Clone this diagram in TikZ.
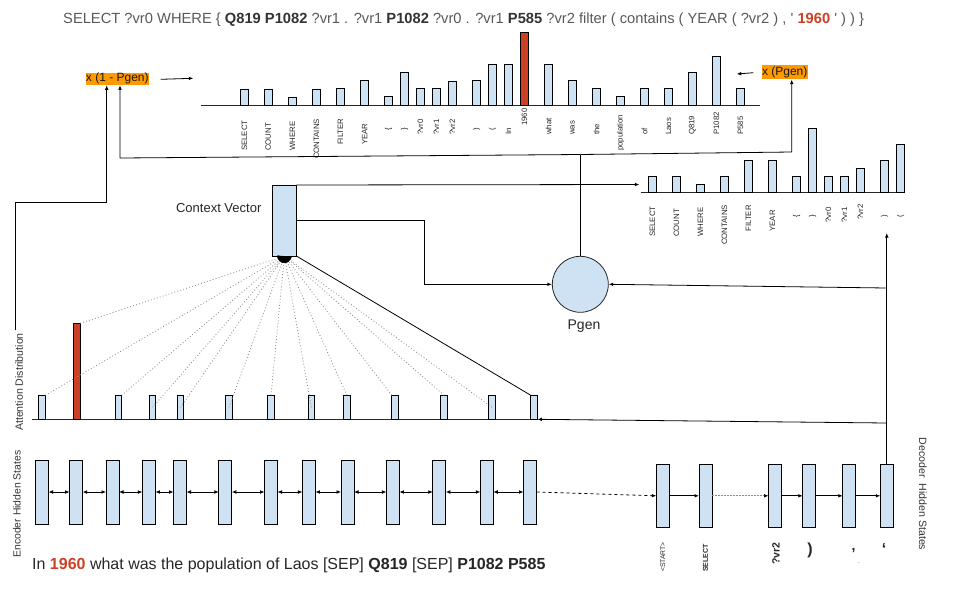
\documentclass[tikz,border=0pt]{standalone}
\usepackage{fontspec}
\setmainfont{Liberation Sans}
\usetikzlibrary{arrows.meta}
\definecolor{barblue}{HTML}{CFE2F3}
\definecolor{berry}{HTML}{CC4125}
\definecolor{orng}{HTML}{FF9900}
\definecolor{qgray}{HTML}{595959}
\definecolor{qdark}{HTML}{333333}
\definecolor{dotgray}{HTML}{8C8C8C}
\newcommand\fsz[1]{\fontsize{#1}{#1}\selectfont}
\newcommand\qb[1]{\textbf{\textcolor{qdark}{#1}}}
\begin{document}
\begin{tikzpicture}[x=1pt,y=-1pt,
  bar/.style={draw=black, fill=barblue, line width=0.9pt, inner sep=0pt, outer sep=0pt},
  tlbl/.style={rotate=90, anchor=west, inner sep=0pt, font=\fsz{7.8}, text=black!85},
  conn/.style={line width=0.8pt, draw=black},
  arr/.style={conn, -{Latex[length=4.5pt,width=3.6pt]}},
  dblarr/.style={conn, {Latex[length=4.5pt,width=3.8pt]}-{Latex[length=4.5pt,width=3.8pt]}},
  dotl/.style={draw=dotgray, line width=0.8pt, dash pattern=on 0.9pt off 2.2pt, -{Latex[length=6.5pt,width=6pt,black]}},
  base/.style={line width=1pt, draw=black!85},
  plain/.style={inner sep=0pt, text=black!85},
  obox/.style={fill=orng, inner sep=0pt, font=\fsz{12}, text=black!90},
]
\useasboundingbox (0,0) rectangle (960,600);

% ---------- query text ----------
\node[anchor=west, inner sep=0pt, font=\fsz{14.7}, text=qgray] (query) at (63,19.4)
 {SELECT ?vr0 WHERE \{ \qb{Q819} \qb{P1082} ?vr1 . ?vr1 \qb{P1082} ?vr0 . ?vr1 \qb{P585} ?vr2 filter ( contains ( YEAR ( ?vr2 ) , \textquotesingle\ \textbf{\textcolor{berry}{1960}} \textquotesingle\ ) ) \}};

% ---------- top distribution ----------
\draw[base] (200.7,105) -- (760,105);
\foreach \x/\t/\lab/\ly/\col [count=\i] in {
  244.5/89/SELECT/151/barblue, 268.3/89/COUNT/151/barblue, 292.5/97.3/WHERE/151/barblue,
  316.5/89/CONTAINS/159/barblue, 340.5/88.3/FILTER/145/barblue, 364.7/80.3/YEAR/145/barblue,
  388.5/96.3/\{/131/barblue, 404.5/72.3/\}/131/barblue, 420.5/88.3/?vr0/135/barblue,
  436.5/88.3/?vr1/135/barblue, 452.5/81.3/?vr2/135/barblue, 476.5/80.3/)/131/barblue,
  492.5/64.3/(/131/barblue, 508.5/64.3/In/135/barblue, 524.5/32.3/1960/126/berry,
  548.5/64.3/what/135/barblue, 572.5/80.3/was/135/barblue, 596.5/88.3/the/135/barblue,
  620.5/96.3/population/151/barblue, 644.5/88.3/of/135/barblue, 668.5/88.3/Laos/135/barblue,
  692.5/72.3/Q819/135/barblue, 716.5/56.3/P1082/135/barblue, 740.5/88.3/P585/135/barblue}
{
  \node[bar, fill=\col, anchor=south, minimum width=7.6pt, minimum height={(105-\t)*1pt}] (tb\i) at (\x,105) {};
  \node[tlbl] (tl\i) at (\x,\ly) {\lab};
}

% ---------- right (vocabulary) distribution ----------
\draw[base] (640.7,192) -- (905,192);
\foreach \x/\t/\lab/\ly [count=\i] in {
  652.5/176.7/SELECT/237, 676.5/176.7/COUNT/237, 700.5/184.3/WHERE/237,
  724.5/176.7/CONTAINS/245, 748.5/160.7/FILTER/231.7, 772.5/160.7/YEAR/231.7,
  796.5/176.7/\{/218, 812.5/128.3/\}/218, 828.5/176.7/?vr0/222.7,
  844.5/176.7/?vr1/222.7, 860.5/168.7/?vr2/220, 884.5/160.7/)/218, 900.5/144.3/(/218}
{
  \node[bar, anchor=south, minimum width=8.4pt, minimum height={(192-\t)*1pt}] (rb\i) at (\x,192) {};
  \node[tlbl] (rl\i) at (\x,\ly) {\lab};
}

% ---------- orange multipliers ----------
\node[obox, minimum width=62.7pt, minimum height=12.5pt] (xom) at (117.3,78.8) {x (1 - Pgen)};
\node[obox, minimum width=46pt, minimum height=14.3pt] (xp) at (784.7,72.2) {x (Pgen)};
\coordinate (xoa) at (160.7,79.3);
\coordinate (xob) at (193.3,78.3);
\draw[arr] (xoa) -- (xob);
\coordinate (xpa) at (753.3,72.7);
\coordinate (xpb) at (736.7,74);
\draw[arr] (xpa) -- (xpb);

% ---------- Pgen ----------
\node[circle, draw=black!85, fill=barblue, line width=0.8pt, minimum size=56pt, inner sep=0pt] (pgen) at (580.3,284.3) {};
\node[plain, font=\fsz{14}] (pgenl) at (584,326) {Pgen};

\coordinate (jM) at (580.3,154.5);
\coordinate (jL) at (120,158);
\coordinate (jR) at (791.7,152);
\draw[conn] (pgen.north) -- (jM);
\draw[arr] (jM) -- (jL) -- (jL |- xom.south);
\draw[arr] (jM) -- (jR) -- (jR |- xp.south);

% ---------- context vector ----------
\fill[black] (284.4,256) ellipse [x radius=7.5pt, y radius=5.5pt];
\node[bar, minimum width=24pt, minimum height=71pt] (cv) at (284.4,220.5) {};
\node[plain, font=\fsz{13}] (cvl) at (218.7,208.5) {Context Vector};
\coordinate (rcin) at (639.3,184.5);
\draw[arr] (cv.north east) -- (rcin);
\coordinate (c1) at (424.3,220.5);
\coordinate (c2) at (424.3,284.3);
\draw[arr] (cv.east) -- (c1) -- (c2) -- (pgen.west);

% ---------- attention distribution ----------
\draw[base] (31.7,419.3) -- (537.7,419.3);
\foreach \x/\h/\col [count=\i] in {
  42/24/barblue, 76.9/96/berry, 118.3/24/barblue, 152.6/24/barblue, 180.6/24/barblue,
  229/24/barblue, 271/24/barblue, 311.4/24/barblue, 346.8/24/barblue, 395.2/24/barblue,
  444.1/24/barblue, 492/24/barblue, 534.1/24/barblue}
{
  \node[bar, fill=\col, anchor=south, minimum width=6.6pt, minimum height=\h pt] (a\i) at (\x,419.3) {};
}
\foreach \s in {a1.north east, a2.north east, a3.north east, a4.center, a5.center, a6.center,
  a7.north, a8.center, a9.north, a10.north west, a11.north, a12.center}
{
  \draw[dotl] (\s) -- (cv.south);
}
\draw[conn] (cv.south east) -- (a13.north west);

\node[plain, rotate=90, font=\fsz{10.6}, text=black!80] (attd) at (19,382) {Attention Distribution};
\coordinate (at0) at (15.4,330);
\coordinate (at1) at (15.4,202);
\coordinate (at2) at (106.7,202);
\draw[arr] (at0) -- (at1) -- (at2) -- (at2 |- xom.south);

% ---------- encoder ----------
\foreach \x [count=\i] in {42,76.1,112.5,148.9,180,225.3,271,308.9,347.5,392.9,439.3,486.8,530}
{
  \node[bar, minimum width=13pt, minimum height=64pt] (e\i) at (\x,492) {};
}
\foreach \i [evaluate=\i as \j using int(\i+1)] in {1,...,12}
{
  \draw[dblarr] (e\i.east) -- (e\j.west);
}
\node[plain, rotate=90, font=\fsz{10.4}, text=black!80] (encl) at (17,504) {Encoder Hidden States};
\node[anchor=west, inner sep=0pt, font=\fsz{16}, text=black!85] (sent) at (32,565)
 {In \textbf{\textcolor{berry}{1960}} what was the population of Laos [SEP] \textbf{Q819} [SEP] \textbf{P1082 P585}};

% ---------- decoder ----------
\foreach \x [count=\i] in {662.8,705.5,775,809.3,849.3,886.8}
{
  \node[bar, minimum width=13pt, minimum height=63pt] (d\i) at (\x,495.8) {};
}
\draw[conn, dashed, -{Latex[length=4.5pt,width=3.6pt]}] (e13.east) -- (d1.west);
\draw[arr] (d1.east) -- (d2.west);
\draw[draw=dotgray, line width=0.7pt, dash pattern=on 1.5pt off 1.5pt, -{Latex[length=4.5pt,width=3.6pt,black]}] (d2.east) -- (d3.west);
\draw[arr] (d3.east) -- (d4.west);
\draw[arr] (d4.east) -- (d5.west);
\draw[arr] (d5.east) -- (d6.west);

\node[plain, rotate=90, font=\fsz{6.8}] (dl1) at (662.8,557) {<START>};
\node[plain, rotate=90, font=\fsz{7}\bfseries] (dl2) at (705.5,558) {SELECT};
\node[plain, rotate=90, font=\fsz{10.5}\bfseries] (dl3) at (776,553.5) {?vr2};
\node[plain, font=\fsz{16}\bfseries] (dl4) at (810,550) {)};
\node[plain, font=\fsz{14}\bfseries] (dl5) at (853.5,551) {,};
\node[plain, font=\fsz{6}] (dl5b) at (859,563) {.};
\node[plain, font=\fsz{16}\bfseries] (dl6) at (884,549) {‘};
\node[plain, rotate=-90, font=\fsz{10.6}, text=black!80] (decl) at (923,494) {Decoder\ \ Hidden States};

\coordinate (up) at (886.8,233);
\coordinate (bp) at (886.8,288);
\coordinate (ba) at (886.8,423);
\draw[arr] (d6.north) -- (up);
\draw[arr] (bp) -- (pgen.east);
\draw[arr] (ba) -- (a13.south east);
\end{tikzpicture}
\end{document}
